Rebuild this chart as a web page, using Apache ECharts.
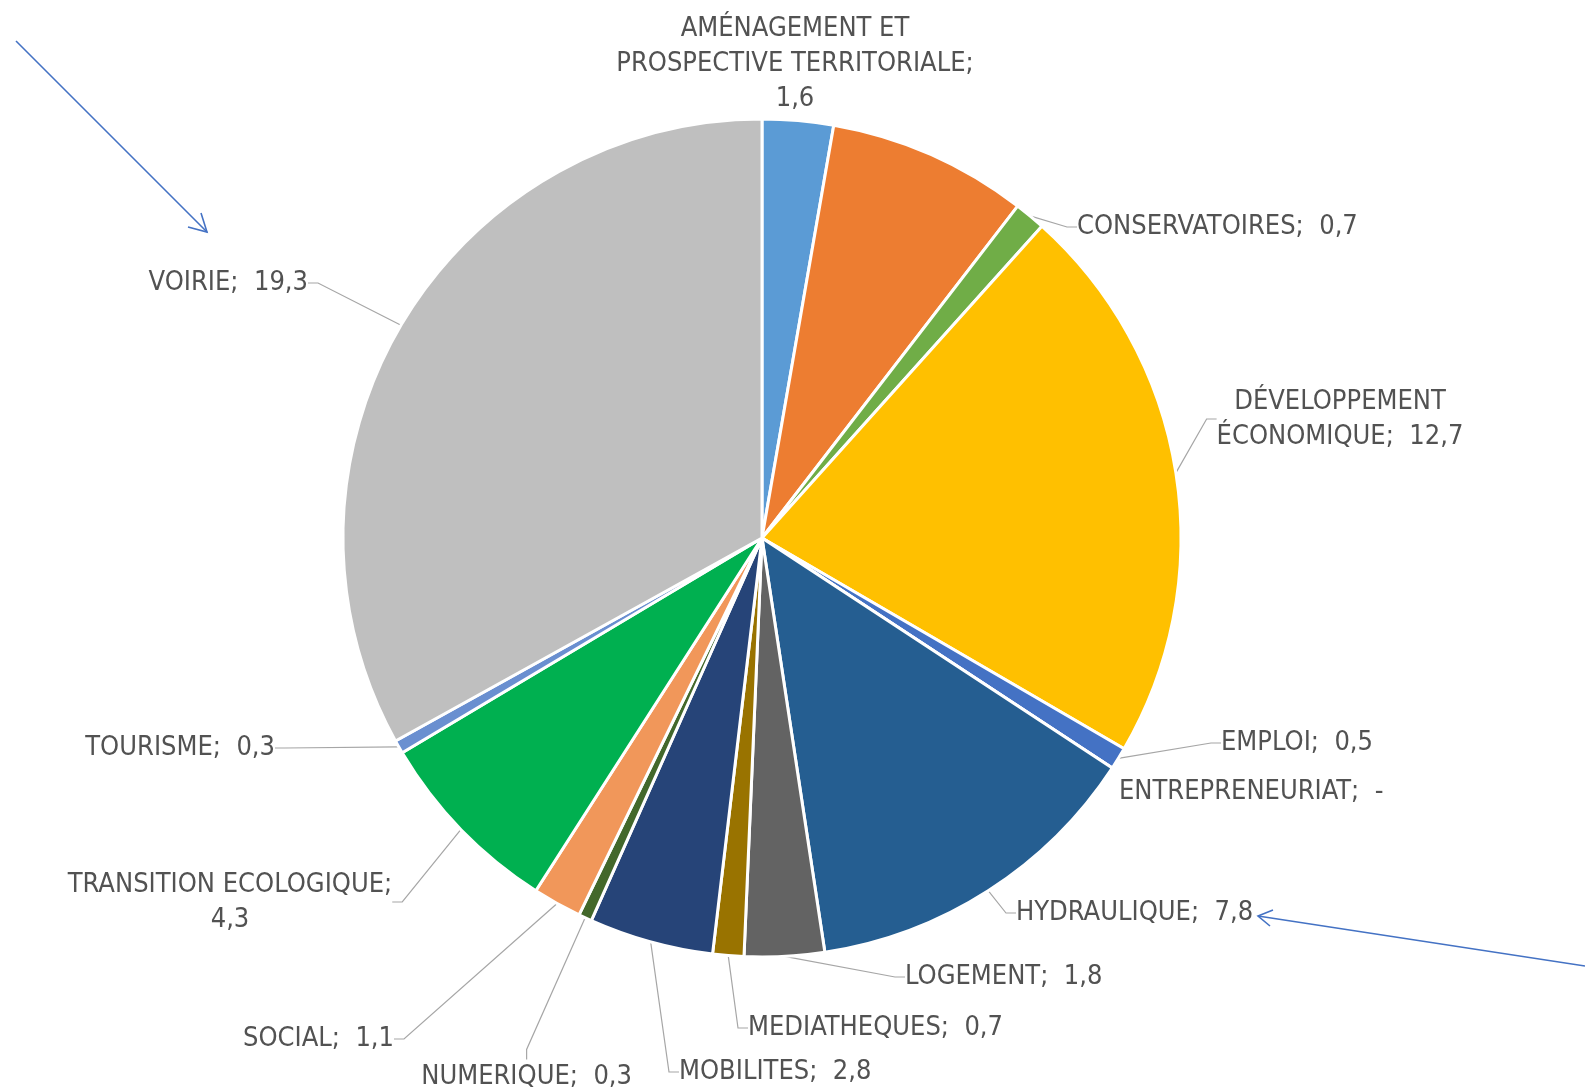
<!DOCTYPE html>
<html>
<head>
<meta charset="utf-8">
<script src="https://cdn.jsdelivr.net/npm/echarts@6/dist/echarts.min.js"></script>
<style>
  html, body { margin: 0; padding: 0; background: #ffffff; }
  #chart { width: 1585px; height: 1091px; }
</style>
</head>
<body>
<div id="chart"></div>
<script>
// ---- data ----
const categories = [
  'AMÉNAGEMENT ET PROSPECTIVE TERRITORIALE',
  '',
  'CONSERVATOIRES',
  'DÉVELOPPEMENT ÉCONOMIQUE',
  'EMPLOI',
  'ENTREPRENEURIAT',
  'HYDRAULIQUE',
  'LOGEMENT',
  'MEDIATHEQUES',
  'MOBILITES',
  'NUMERIQUE',
  'SOCIAL',
  'TRANSITION ECOLOGIQUE',
  'TOURISME',
  'VOIRIE'
];
const values = [1.6, 4.5, 0.7, 12.7, 0.5, 0, 7.8, 1.8, 0.7, 2.8, 0.3, 1.1, 4.3, 0.3, 19.3];
const colors = ['#5B9BD5', '#ED7D31', '#70AD47', '#FFC000', '#4472C4', '#7F7F7F', '#255E91',
                '#636363', '#997300', '#264478', '#43682B', '#F1975A', '#00B050', '#6A8FD0', '#BFBFBF'];

// ---- label placement (layout only) ----
const labelSpec = [
  { x: 795, y: 64, align: 'center', text: 'AMÉNAGEMENT ET\nPROSPECTIVE TERRITORIALE;\n{v}', line: false },
  { show: false },
  { x: 1077, y: 227, align: 'left' },
  { x: 1340, y: 419, align: 'center', text: 'DÉVELOPPEMENT\nÉCONOMIQUE;  {v}' },
  { x: 1221, y: 743, align: 'left' },
  { x: 1119, y: 792, align: 'left', line: false },
  { x: 1016, y: 913, align: 'left' },
  { x: 905, y: 977, align: 'left' },
  { x: 748, y: 1028, align: 'left' },
  { x: 679, y: 1072, align: 'left' },
  { x: 632, y: 1077, align: 'right' },
  { x: 394, y: 1039, align: 'right' },
  { x: 230, y: 902, align: 'center', text: 'TRANSITION ECOLOGIQUE;\n{v}' },
  { x: 275, y: 748, align: 'right' },
  { x: 308, y: 283, align: 'right' }
];

function fmtValue(v) {
  return v === 0 ? '-' : v.toFixed(1).replace('.', ',');
}

const data = categories.map((name, i) => {
  const spec = labelSpec[i];
  return {
    name: name,
    value: values[i],
    itemStyle: { color: colors[i] },
    label: { show: spec.show !== false },
    labelLine: { show: spec.show !== false && spec.line !== false }
  };
});

const chart = echarts.init(document.getElementById('chart'), null, { renderer: 'canvas' });
const FONT = '"DejaVu Sans Condensed", "Liberation Sans Narrow", "Liberation Sans", sans-serif';

chart.setOption({
  backgroundColor: '#ffffff',
  animation: false,
  series: [{
    type: 'pie',
    center: [762, 538],
    radius: [0, 419],
    startAngle: 90,
    clockwise: true,
    avoidLabelOverlap: false,
    itemStyle: { borderColor: '#ffffff', borderWidth: 3 },
    label: {
      show: true,
      position: 'outside',
      color: '#525252',
      fontFamily: FONT,
      fontSize: 27,
      lineHeight: 35,
      formatter: function (p) {
        const spec = labelSpec[p.dataIndex];
        const v = fmtValue(p.value);
        if (spec.text) return spec.text.replace('{v}', v);
        return p.name + ';  ' + v;
      }
    },
    labelLine: {
      show: true,
      length: 10,
      length2: 10,
      lineStyle: { color: '#a6a6a6', width: 1.2 }
    },
    labelLayout: function (params) {
      const spec = labelSpec[params.dataIndex];
      if (!spec || spec.show === false) return {};
      return { x: spec.x, y: spec.y, align: spec.align, verticalAlign: 'middle' };
    },
    emphasis: { disabled: true },
    data: data
  }],
  graphic: [
    { type: 'polyline', shape: { points: [[16, 41], [207, 232]] }, style: { stroke: '#4472C4', lineWidth: 1.6, fill: null } },
    { type: 'polyline', shape: { points: [[188, 227], [207, 232], [201, 213]] }, style: { stroke: '#4472C4', lineWidth: 1.6, fill: null } },
    { type: 'polyline', shape: { points: [[1585, 966], [1258, 916]] }, style: { stroke: '#4472C4', lineWidth: 1.6, fill: null } },
    { type: 'polyline', shape: { points: [[1270, 926], [1258, 916], [1273, 910]] }, style: { stroke: '#4472C4', lineWidth: 1.6, fill: null } }
  ]
});
</script>
</body>
</html>
